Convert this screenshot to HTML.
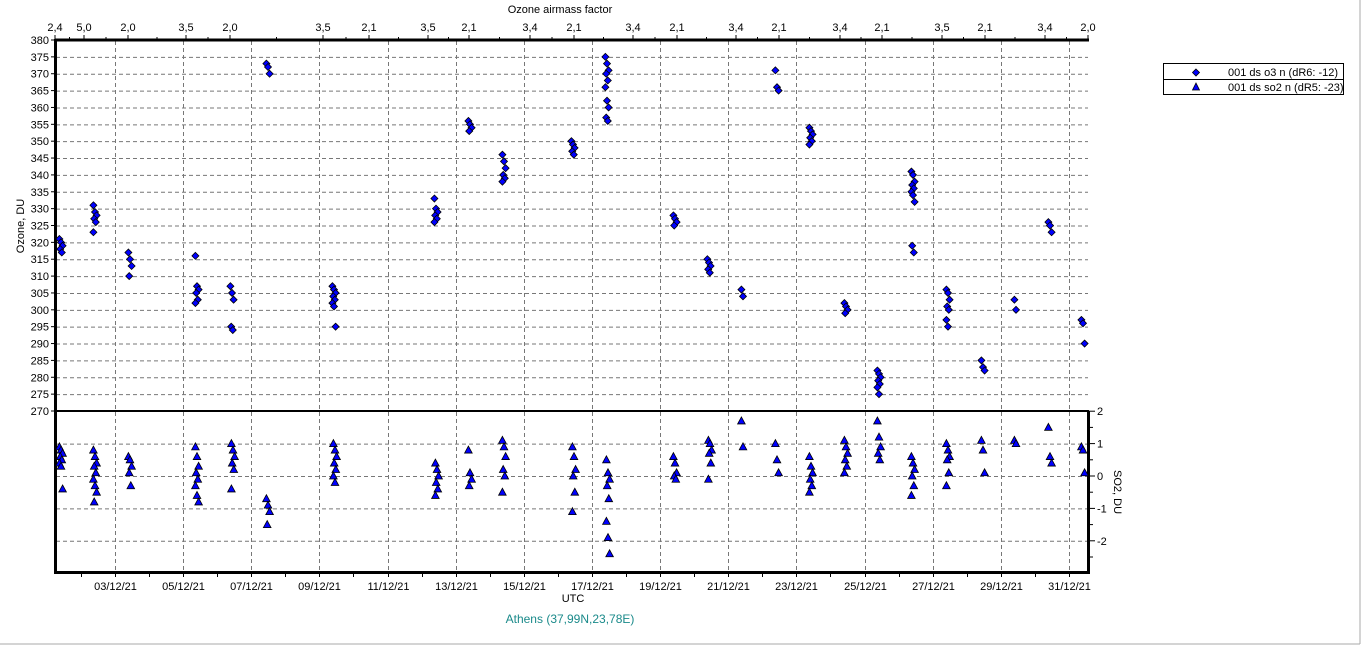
<!DOCTYPE html>
<html><head><meta charset="utf-8"><style>
html,body{margin:0;padding:0;background:#fff;}
svg{display:block;font-family:"Liberation Sans",sans-serif;}
</style></head><body>
<svg id="s" width="1361" height="645" xmlns="http://www.w3.org/2000/svg">
<rect x="0" y="0" width="1361" height="645" fill="#fff"/>
<line x1="1360" y1="0" x2="1360" y2="644" stroke="#aaa"/>
<line x1="0" y1="644" x2="1360" y2="644" stroke="#aaa"/>
<g id="grid" stroke="#777" stroke-dasharray="4,3" stroke-width="1"></g>
<g id="axes" stroke="#000" fill="none">
<line x1="55.5" y1="39" x2="55.5" y2="574" stroke-width="3"/>
<line x1="55" y1="40" x2="1089" y2="40" stroke-width="3"/>
<line x1="55" y1="411" x2="1089" y2="411" stroke-width="2"/>
<line x1="1088.5" y1="411" x2="1088.5" y2="574" stroke-width="3"/>
<line x1="55" y1="572.5" x2="1090" y2="572.5" stroke-width="3"/>
</g>
<g id="ticks" stroke="#000" stroke-width="1"></g>
<g id="lbl" font-size="11" fill="#000"></g>
<g font-size="11" fill="#000">
<text x="560" y="13" text-anchor="middle">Ozone airmass factor</text>
<text x="573" y="602" text-anchor="middle">UTC</text>
<text x="570" y="623" text-anchor="middle" fill="#1a8a8a" font-size="12">Athens (37,99N,23,78E)</text>
<text transform="translate(24,226) rotate(-90)" text-anchor="middle">Ozone, DU</text>
<text transform="translate(1114,492) rotate(90)" text-anchor="middle">SO2, DU</text>
</g>
<g id="data"></g>
<g font-size="11">
<rect x="1163.5" y="63.5" width="180" height="31" fill="#fff" stroke="#000"/>
<line x1="1163" y1="79.5" x2="1343" y2="79.5" stroke="#000"/>
<polygon points="1196,69 1199.5,72.5 1196,76 1192.5,72.5" fill="#00f" stroke="#000" stroke-width="0.8"/>
<polygon points="1196,83 1199.5,90 1192.5,90" fill="#00f" stroke="#000" stroke-width="0.8"/>
<text x="1228" y="76">001 ds o3  n (dR6: -12)</text>
<text x="1228" y="91">001 ds so2 n (dR5: -23)</text>
</g>
</svg>
<script>
(function(){
var NS="http://www.w3.org/2000/svg";
function el(p,t,a,txt){var e=document.createElementNS(NS,t);for(var k in a)e.setAttribute(k,a[k]);if(txt!=null)e.textContent=txt;document.getElementById(p).appendChild(e);}
var oy=function(v){return 40+(380-v)*3.3727;}, sy=function(v){return 476-v*32.4;};
var dx=function(d){return 115+(d-3)*34.07;};
var v,y,x,d,i;
for(v=375;v>270;v-=5)el("grid","line",{x1:56,y1:oy(v)+.5,x2:1088,y2:oy(v)+.5});
[1,0,-1,-2].forEach(function(v){el("grid","line",{x1:56,y1:sy(v)+.5,x2:1088,y2:sy(v)+.5});});
for(d=3;d<=31;d+=2){x=Math.round(dx(d))+.5;el("grid","line",{x1:x,y1:41,x2:x,y2:571});}
for(v=380;v>=270;v-=5){y=oy(v);el("ticks","line",{x1:51,y1:y,x2:55,y2:y});el("lbl","text",{x:49,y:y+4,"text-anchor":"end"},String(v));}
for(v=2;v>=-2.5;v-=0.5){y=sy(v);el("ticks","line",{x1:1089,y1:y,x2:(v%1==0?1095:1093),y2:y});if(v%1==0)el("lbl","text",{x:1097,y:y+4},String(v));}
for(d=2;d<=31;d++){x=Math.round(dx(d))+.5;el("ticks","line",{x1:x,y1:573,x2:x,y2:577});if(d%2==1)el("lbl","text",{x:x,y:590,"text-anchor":"middle"},(d<10?"0":"")+d+"/12/21");}
var tp=[[55,"2,4"],[84,"5,0"],[128,"2,0"],[186,"3,5"],[230,"2,0"],[323,"3,5"],[369,"2,1"],[428,"3,5"],[469,"2,1"],[530,"3,4"],[574,"2,1"],[633,"3,4"],[677,"2,1"],[736,"3,4"],[779,"2,1"],[840,"3,4"],[882,"2,1"],[942,"3,5"],[985,"2,1"],[1045,"3,4"],[1088,"2,0"]];
tp.forEach(function(t){el("lbl","text",{x:t[0],y:31,"text-anchor":"middle"},t[1]);el("ticks","line",{x1:t[0],y1:35,x2:t[0],y2:40});});
for(i=0;i<tp.length-1;i++){var m=(tp[i][0]+tp[i+1][0])/2;el("ticks","line",{x1:m,y1:37,x2:m,y2:40});}
var O=[[61,[321,320,319,318,317]],[95,[331,329,328,327,326,323]],[130,[317,315,313,310]],[197,[316,307,306,305,303,302]],[232,[307,305,303,295,294]],[268,[373,372,370]],[334,[307,306,305,304,303,302,301,295]],[436,[333,330,329,328,327,326]],[470,[356,355,354,353]],[504,[346,344,342,340,339,338]],[573,[350,349,348,347,346]],[607,[375,373,371,370,368,366,362,360,357,356]],[675,[328,327,326,325]],[709,[315,314,313,312,311]],[743,[306,304]],[777,[371,366,365]],[811,[354,353,352,351,350,349]],[846,[302,301,300,299]],[879,[282,281,280,279,278,277,275]],[913,[341,340,338,337,336,335,334,332,319,317]],[948,[306,305,303,301,300,297,295]],[983,[285,283,282]],[1016,[303,300]],[1050,[326,325,323]],[1083,[297,296,290]]];
var S=[[61,[0.9,0.8,0.7,0.6,0.5,0.4,0.3,-0.4]],[95,[0.8,0.6,0.4,0.3,0.1,-0.1,-0.3,-0.5,-0.8]],[130,[0.6,0.5,0.3,0.1,-0.3]],[197,[0.9,0.6,0.3,0.1,-0.1,-0.3,-0.6,-0.8]],[233,[1.0,0.8,0.6,0.4,0.2,-0.4]],[268,[-0.7,-0.9,-1.1,-1.5]],[335,[1.0,0.8,0.6,0.4,0.2,0.0,-0.2]],[437,[0.4,0.2,0.0,-0.2,-0.4,-0.6]],[470,[0.8,0.1,-0.1,-0.3]],[504,[1.1,0.9,0.6,0.2,0.0,-0.5]],[574,[0.9,0.6,0.2,0.0,-0.5,-1.1]],[608,[0.5,0.1,-0.1,-0.3,-0.7,-1.4,-1.9,-2.4]],[675,[0.6,0.4,0.1,0.0,-0.1]],[710,[1.1,1.0,0.8,0.7,0.4,-0.1]],[743,[1.7,0.9]],[777,[1.0,0.5,0.1]],[811,[0.6,0.3,0.1,-0.1,-0.3,-0.5]],[846,[1.1,0.9,0.7,0.5,0.3,0.1]],[879,[1.7,1.2,0.9,0.7,0.5]],[913,[0.6,0.4,0.2,0.0,-0.3,-0.6]],[948,[1.0,0.8,0.6,0.5,0.1,-0.3]],[983,[1.1,0.8,0.1]],[1016,[1.1,1.0]],[1050,[1.5,0.6,0.4]],[1083,[0.9,0.8,0.1]]];
O.forEach(function(c){c[1].forEach(function(v,i){var x=c[0]+((i*7)%5-2)*0.8,y=oy(v);el("data","polygon",{points:x+","+(y-3.5)+" "+(x+3.5)+","+y+" "+x+","+(y+3.5)+" "+(x-3.5)+","+y,fill:"#00f",stroke:"#000","stroke-width":0.8});});});
S.forEach(function(c){c[1].forEach(function(v,i){var x=c[0]+((i*7)%5-2)*0.8,y=sy(v);el("data","polygon",{points:x+","+(y-4)+" "+(x+3.8)+","+(y+3)+" "+(x-3.8)+","+(y+3),fill:"#00f",stroke:"#000","stroke-width":0.8});});});
})();
</script>
</body></html>
